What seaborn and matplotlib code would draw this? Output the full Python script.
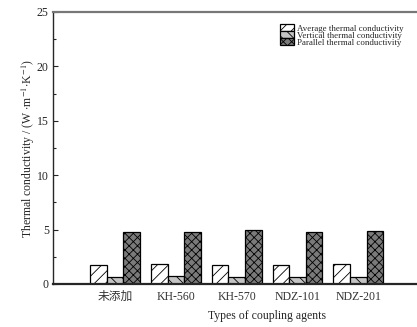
import pandas as pd
import matplotlib.pyplot as plt
import seaborn as sns
from matplotlib.patches import Patch
from matplotlib.ticker import MultipleLocator

# Thermal conductivity for each coupling agent
agents = ["未添加", "KH-560", "KH-570", "NDZ-101", "NDZ-201"]
series = ["Average thermal conductivity",
          "Vertical thermal conductivity",
          "Parallel thermal conductivity"]
average = [1.72, 1.85, 1.76, 1.76, 1.85]
vertical = [0.63, 0.72, 0.63, 0.66, 0.66]
parallel = [4.74, 4.74, 4.92, 4.74, 4.85]

colors = ["white", "#c4c4c4", "#7a7a7a"]
hatches = ["///", "\\\\\\", "xxxx"]

rows = []
for name, vals in zip(series, [average, vertical, parallel]):
    for a, v in zip(agents, vals):
        rows.append({"agent": a, "kind": name, "value": v})
df = pd.DataFrame(rows)

sns.set_style("ticks")
plt.rcParams["font.family"] = ["Liberation Serif", "Noto Sans CJK SC"]
plt.rcParams["mathtext.fontset"] = "stix"
plt.rcParams["hatch.linewidth"] = 0.6
plt.rcParams["xtick.direction"] = "in"
plt.rcParams["ytick.direction"] = "in"

fig = plt.figure(figsize=(4.17, 3.27), dpi=100)
# axes runs past the right edge of the figure like the original crop
ax = fig.add_axes([53 / 417, 1 - 284 / 327, 427 / 417, 272 / 327])

sns.barplot(data=df, x="agent", y="value", hue="kind", order=agents,
            hue_order=series, palette=colors, width=0.82,
            edgecolor="black", linewidth=0.9, ax=ax, legend=False)

for cont, h in zip(ax.containers, hatches):
    for bar in cont:
        bar.set_hatch(h)

ax.set_xlim(-1.02, 6.0)
ax.set_ylim(0, 25)
ax.yaxis.set_major_locator(MultipleLocator(5))
ax.yaxis.set_minor_locator(MultipleLocator(2.5))
ax.tick_params(axis="y", which="major", length=3.5, width=0.8, labelsize=8.5, pad=3)
ax.tick_params(axis="y", which="minor", length=2, width=0.8)
ax.tick_params(axis="x", length=0, labelsize=8.5, pad=5, colors="black")
for lab in ax.get_xticklabels():
    lab.set_color("#333333")

ax.spines["left"].set_linewidth(1.0)
ax.spines["bottom"].set_linewidth(1.6)
ax.spines["top"].set_linewidth(1.6)
ax.spines["top"].set_color("#777777")
ax.spines["right"].set_visible(False)

ax.set_xlabel("Types of coupling agents", fontsize=8.5, labelpad=5)
ax.set_ylabel(r"Thermal conductivity / (W $\cdot$m$^{-1}$$\cdot$K$^{-1}$)",
              fontsize=8.5, labelpad=0)

handles = [Patch(facecolor=c, edgecolor="black", hatch=h, linewidth=0.9)
           for c, h in zip(colors, hatches)]
fig.legend(handles, series, loc="upper left", bbox_to_anchor=(276 / 417, 1 - 20 / 327),
           frameon=False, fontsize=6.4, handlelength=1.5, handleheight=0.75,
           handletextpad=0.4, labelspacing=-0.15, borderpad=0)

fig.savefig("out.png", dpi=100)
